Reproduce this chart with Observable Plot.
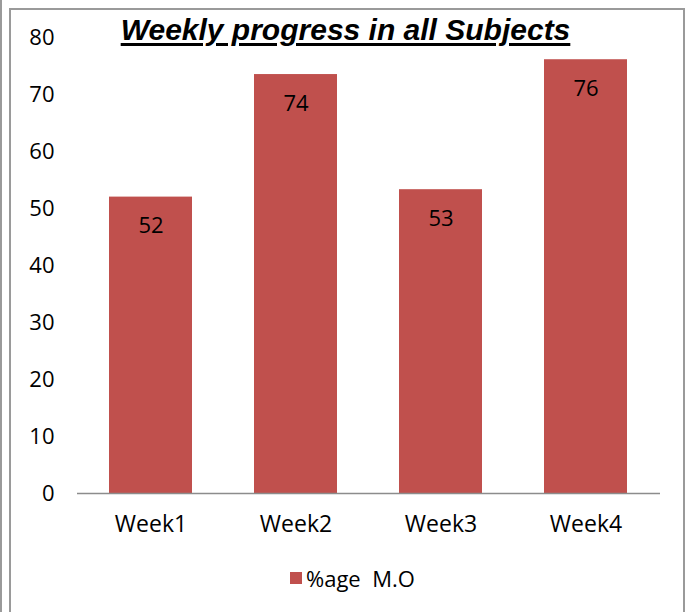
<!DOCTYPE html>
<html>
<head>
<meta charset="utf-8">
<script src="https://cdn.jsdelivr.net/npm/d3@7"></script>
<script src="https://cdn.jsdelivr.net/npm/@observablehq/plot@0.6"></script>
<style>
  html, body { margin: 0; padding: 0; background: #fff; }
  #wrap { position: relative; width: 691px; height: 612px; overflow: hidden; background: #fff; }
  #outer { position: absolute; left: 0; top: -2px; width: 0; height: 620px; border-left: 2px solid #9a9a9a; }
  #frame { position: absolute; left: 9px; top: 8px; width: 676px; height: 640px; border: 2px solid #9a9a9a; box-sizing: border-box; }
  #title { position: absolute; left: 0; width: 691px; top: 13px; text-align: center;
           font-family: "Liberation Sans", Arial, sans-serif; font-weight: bold; font-style: italic;
           font-size: 30px; text-decoration: underline; text-decoration-thickness: 3px; text-underline-offset: 3px; color: #000; }
  #legend { position: absolute; top: 563px; left: 290px; font-family: "Open Sans", sans-serif; font-size: 22px; color: #000;
            display: flex; align-items: center; white-space: pre; }
  #legend .sw { width: 12px; height: 12px; background: #C0504D; margin-right: 4px; }
  #chart { position: absolute; left: 0; top: 0; }
</style>
</head>
<body>
<div id="wrap">
  <div id="outer"></div>
  <div id="frame"></div>
  <div id="chart"></div>
  <div id="title">Weekly progress in all Subjects</div>
  <div id="legend"><span class="sw"></span><span>%age  M.O</span></div>
</div>
<script>
const weeks = ["Week1", "Week2", "Week3", "Week4"];
const values = [52, 73.5, 53.3, 76.1];
const labels = ["52", "74", "53", "76"];
const yTicks = [0, 10, 20, 30, 40, 50, 60, 70, 80];
const seriesName = "%age  M.O";

const data = weeks.map((w, i) => ({week: w, value: values[i], label: labels[i]}));
const barColor = "#C0504D";
const axisColor = "#8c8c8c";
const font = "'Open Sans', sans-serif";

const chart = Plot.plot({
  width: 691,
  height: 612,
  marginLeft: 77,
  marginRight: 31,
  marginTop: 37,
  marginBottom: 119,
  style: {fontFamily: font, fontSize: "22px", color: "#000", background: "transparent"},
  x: {domain: weeks, paddingInner: 0.425, paddingOuter: 0.2125, label: null},
  y: {domain: [0, 80], label: null},
  marks: [
    Plot.barY(data, {x: "week", y: "value", fill: barColor}),
    Plot.text(data, {x: "week", y: "value", text: "label", dy: 29, fill: "#000", fontSize: 22}),
    Plot.axisY({ticks: yTicks, tickSize: 0, tickPadding: 23, label: null, fontSize: 22}),
    Plot.axisX({tickSize: 0, tickPadding: 22, label: null, fontSize: 23}),
    Plot.ruleX([0], {frameAnchor: "left", stroke: axisColor, strokeWidth: 1.5}),
    Plot.ruleY([0], {stroke: axisColor, strokeWidth: 1.5})
  ]
});
document.getElementById("chart").appendChild(chart);
</script>
</body>
</html>
